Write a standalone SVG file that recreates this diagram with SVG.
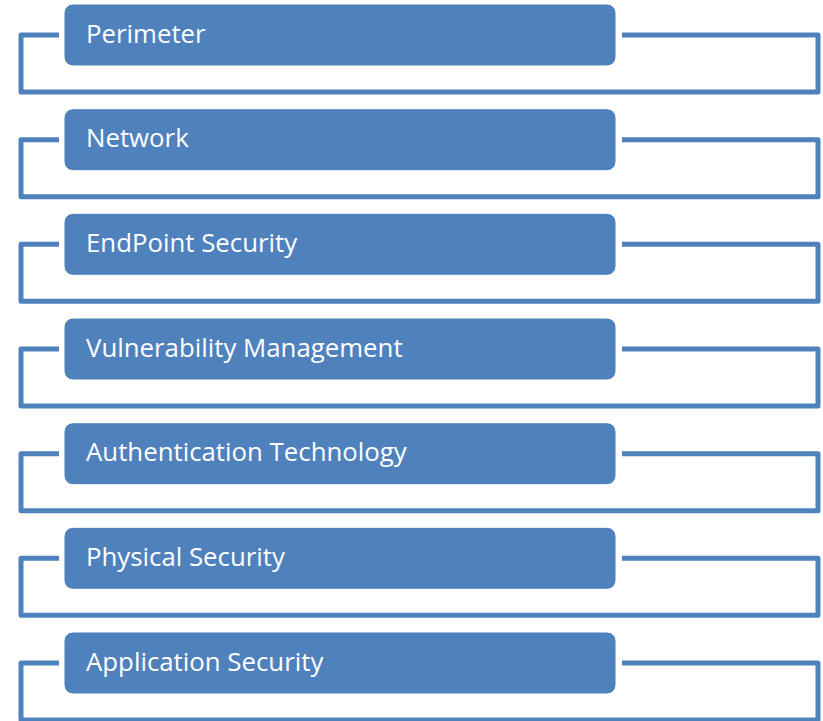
<svg xmlns="http://www.w3.org/2000/svg" width="823" height="721" viewBox="0 0 823 721">
<style>
.frame{fill:none;stroke:#4F81BD;stroke-width:5;stroke-linejoin:round}
.box{fill:#4F81BD;stroke:#FFFFFF;stroke-width:1}
.lbl{fill:#FFFFFF;font-family:"Open Sans","Liberation Sans",sans-serif;font-size:25.8px}
</style>
<rect width="823" height="721" fill="#FFFFFF"/>
<g id="connectors">
<path class="frame" d="M59 35 H21 V92 H818 V35 H622"/>
<path class="frame" d="M59 139.7 H21 V196.7 H818 V139.7 H622"/>
<path class="frame" d="M59 244.3 H21 V301.3 H818 V244.3 H622"/>
<path class="frame" d="M59 349 H21 V406 H818 V349 H622"/>
<path class="frame" d="M59 453.7 H21 V510.7 H818 V453.7 H622"/>
<path class="frame" d="M59 558.3 H21 V615.3 H818 V558.3 H622"/>
<path class="frame" d="M59 663 H21 V720 H818 V663 H622"/>
</g>
<g id="n1"><rect class="box" x="64" y="4" width="552" height="62" rx="9"/><text class="lbl" x="86" y="42.5">Perimeter</text></g>
<g id="n2"><rect class="box" x="64" y="108.7" width="552" height="62" rx="9"/><text class="lbl" x="86" y="147.2">Network</text></g>
<g id="n3"><rect class="box" x="64" y="213.3" width="552" height="62" rx="9"/><text class="lbl" x="86" y="251.8">EndPoint Security</text></g>
<g id="n4"><rect class="box" x="64" y="318" width="552" height="62" rx="9"/><text class="lbl" x="86" y="356.5">Vulnerability Management</text></g>
<g id="n5"><rect class="box" x="64" y="422.7" width="552" height="62" rx="9"/><text class="lbl" x="86" y="461.2">Authentication Technology</text></g>
<g id="n6"><rect class="box" x="64" y="527.3" width="552" height="62" rx="9"/><text class="lbl" x="86" y="565.8">Physical Security</text></g>
<g id="n7"><rect class="box" x="64" y="632" width="552" height="62" rx="9"/><text class="lbl" x="86" y="670.5">Application Security</text></g>
</svg>
